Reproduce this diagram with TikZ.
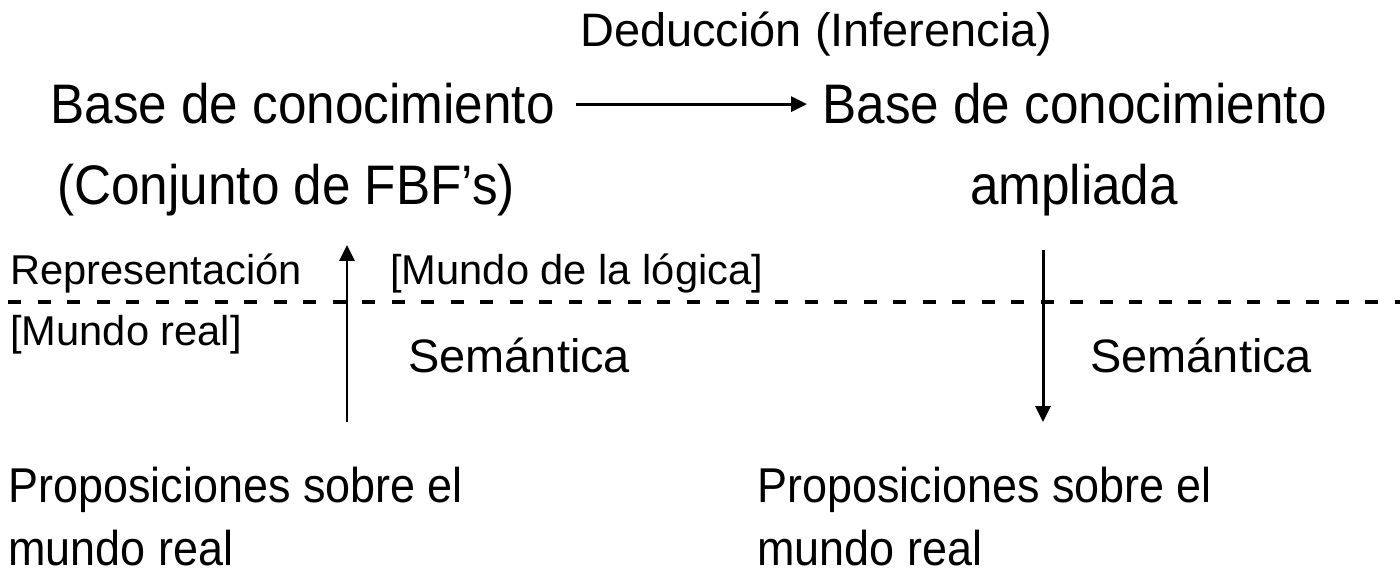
\documentclass[tikz,border=0pt]{standalone}
\usepackage{fontspec}
\setmainfont{Liberation Sans}
\newfontfamily\narrowfont[FakeStretch=0.92]{Liberation Sans}
\usetikzlibrary{arrows.meta}

\begin{document}
\begin{tikzpicture}[x=0.2mm, y=0.2mm,
  big/.style={anchor=base west, font=\narrowfont\fontsize{31.7}{38}\selectfont},
  prop/.style={anchor=base west, font=\narrowfont\fontsize{27.8}{33}\selectfont},
  mid/.style={anchor=base west, font=\fontsize{26.7}{32}\selectfont},
  small/.style={anchor=base west, font=\fontsize{23.7}{28}\selectfont},
  flecha/.style={line width=1.7pt, -{Triangle[length=0.32cm,width=0.3cm]}}]
\tikzstyle{every node}+=[inner sep=0pt]
\useasboundingbox (0,0) rectangle (1400,-574);
% logic world
\node (ded) at (580,-47) [mid] {Deducción (Inferencia)};
\node (kbl) at (50,-124) [big] {Base de conocimiento};
\node (fbf) at (57,-205) [big] {(Conjunto de FBF’s)};
\node (kbr) at (822,-124) [big] {Base de conocimiento};
\node (amp) at (1074,-205) [big, anchor=base] {ampliada};
\draw [flecha, shorten <=0.42cm, shorten >=0.3cm] (kbl.east) -- (kbl.east -| kbr.west);
\node (rep) at (10,-285) [small] {Representación};
\node (log) at (390,-285) [small] {[Mundo de la lógica]};
% border between both worlds
\draw [line width=2.5pt, dash pattern=on 0.26cm off 0.33cm] (8,-302) -- (1400,-302);
\node (real) at (10,-345) [small] {[Mundo real]};
\node (seml) at (408,-372) [mid] {Semántica};
\node (semr) at (1090,-372) [mid] {Semántica};
\coordinate (rep0) at (347,-422);
\coordinate (rep1) at (347,-245);
\draw [flecha] (rep0) -- (rep1);
\coordinate (sem0) at (1043,-250);
\coordinate (sem1) at (1043,-422);
\draw [flecha] (sem0) -- (sem1);
% real world
\node (pl1) at (8,-502) [prop] {Proposiciones sobre el};
\node (pl2) at (8,-565) [prop] {mundo real};
\node (pr1) at (757,-502) [prop] {Proposiciones sobre el};
\node (pr2) at (757,-565) [prop] {mundo real};
\end{tikzpicture}
\end{document}
